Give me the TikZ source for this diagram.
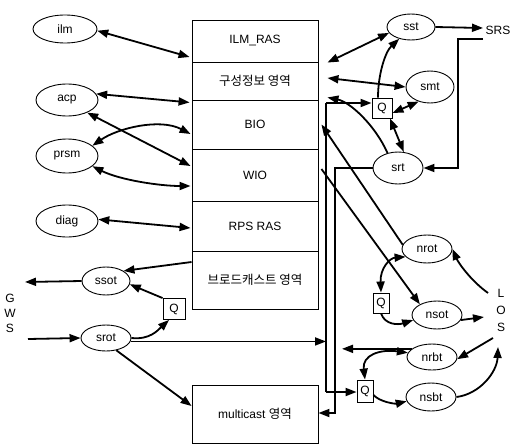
\documentclass[tikz,border=0pt]{standalone}
\usepackage{fontspec}
\setmainfont{Liberation Sans}
\newfontfamily\krfont{Noto Sans CJK KR}
\usetikzlibrary{arrows.meta,shapes.geometric}
\begin{document}
\begin{tikzpicture}[x=1pt,y=-1pt,
  every node/.style={font=\fontsize{12}{14}\selectfont},
  ell/.style={draw, ellipse, line width=0.9pt, inner sep=0pt},
  qbox/.style={draw, rectangle, line width=0.9pt, inner sep=0pt},
  rowbox/.style={draw, rectangle, line width=0.9pt, minimum width=126pt, inner sep=0pt},
  kr/.style={font=\krfont\fontsize{12.5}{14}\selectfont},
  conn/.style={line width=1.8pt, -{Triangle[length=11pt,width=8pt]}},
  dconn/.style={line width=1.8pt, {Triangle[length=11pt,width=8pt]}-{Triangle[length=11pt,width=8pt]}},
  bus/.style={line width=1.6pt},
  lbl/.style={inner sep=0pt}
]
\useasboundingbox (0,0) rectangle (513,444);

% main box
\node[rowbox, minimum height=42pt] (ilmras) at (255,41) {ILM\_RAS};
\node[rowbox, minimum height=38pt, kr] (cfg) at (255,81) {구성정보 영역};
\node[rowbox, minimum height=49pt] (bio) at (255,124.5) {BIO};
\node[rowbox, minimum height=52pt] (wio) at (255,175) {WIO};
\node[rowbox, minimum height=50pt] (rps) at (255,226) {RPS RAS};
\node[rowbox, minimum height=58pt, kr] (bcast) at (255,280) {브로드캐스트 영역};
\node[rowbox, minimum height=58pt] (mcast) at (255,414) {multicast {\krfont\fontsize{12.5}{14}\selectfont 영역}};

% left ellipses
\node[ell, minimum width=64pt, minimum height=28pt] (ilm) at (65,29) {ilm};
\node[ell, minimum width=62pt, minimum height=32pt] (acp) at (67,100) {acp};
\node[ell, minimum width=62pt, minimum height=34pt] (prsm) at (67,156) {prsm};
\node[ell, minimum width=62pt, minimum height=32pt] (diag) at (67,221) {diag};
\node[ell, minimum width=48pt, minimum height=28pt] (ssot) at (106,281) {ssot};
\node[ell, minimum width=50pt, minimum height=26pt] (srot) at (106,338) {srot};
\node[qbox, minimum width=22pt, minimum height=21pt] (Q0) at (174,309) {Q};

% right ellipses
\node[ell, minimum width=48pt, minimum height=26pt] (sst) at (411,27) {sst};
\node[ell, minimum width=48pt, minimum height=32pt] (smt) at (430,87) {smt};
\node[ell, minimum width=50pt, minimum height=32pt] (srt) at (398,168) {srt};
\node[ell, minimum width=50pt, minimum height=28pt] (nrot) at (427,249) {nrot};
\node[ell, minimum width=50pt, minimum height=28pt] (nsot) at (437,315) {nsot};
\node[ell, minimum width=50pt, minimum height=26pt] (nrbt) at (432,357) {nrbt};
\node[ell, minimum width=50pt, minimum height=28pt] (nsbt) at (431,397) {nsbt};
\node[qbox, minimum width=20pt, minimum height=20pt] (Q1) at (382,108) {Q};
\node[qbox, minimum width=16pt, minimum height=20pt] (Q2) at (381,303) {Q};
\node[qbox, minimum width=16pt, minimum height=22pt] (Q3) at (365,391) {Q};

% labels
\node[lbl] (g) at (10,298) {G};
\node[lbl] (w) at (10,313) {W};
\node[lbl] (s) at (10,328) {S};
\node[lbl] (l) at (501,293) {L};
\node[lbl] (o) at (501,310) {O};
\node[lbl] (s2) at (501,327) {S};
\node[lbl] (srs) at (498,30) {SRS};

% coordinates
\coordinate (busLtop) at (326,103);
\coordinate (busLbot) at (326,392);
\coordinate (busRbot) at (335,413);
\coordinate (gwsin) at (28,339);
\coordinate (gwsout) at (25,282);
\coordinate (srsout) at (483,28);
\coordinate (srsin) at (483,39);
\coordinate (srscorner) at (458,39);
\coordinate (losin) at (484,317);
\coordinate (losnrot) at (488,293);
\coordinate (losnrbt) at (493,338);
\coordinate (losnsbt) at (498,347);

% left connectors
\draw[dconn] (ilm.-3) -- ([xshift=-2pt,yshift=-16pt]ilmras.west);
\draw[dconn] (acp.12) -- ([xshift=-2pt,yshift=-2pt]cfg.south west);
\draw[dconn] (acp.-32) -- ([xshift=-1pt,yshift=9pt]wio.west);
\draw[dconn] (prsm.22) .. controls (118,128) and (160,118) .. ([xshift=-1pt,yshift=-9.5pt]bio.west);
\draw[dconn] (prsm.-22) .. controls (120,180) and (160,186) .. ([xshift=-1pt,yshift=-11pt]wio.west);
\draw[dconn] (diag.3) -- ([xshift=-1pt,yshift=-2pt]rps.west);
\draw[conn] ([yshift=18pt]bcast.west) -- (ssot.30);
\draw[conn] (ssot.west) -- (gwsout);
\draw[conn] (gwsin) -- (srot.west);
\draw[conn] (srot.east) .. controls (150,340) and (158,330) .. ([xshift=-5pt]Q0.south);
\draw[conn] (Q0.north west) -- (ssot.-8);
\draw[conn] (srot.-50) -- ([yshift=8pt]mcast.west);
\draw[conn] (srot.-8) -- (srot.-8 -| busLtop);

% buses
\draw[bus] (busLtop) -- (busLbot);
\draw[conn] (busLtop) -- (busLtop -| Q1.west);
\draw[conn] (busLbot) -- (busLbot -| Q3.west);
\draw[conn] (srt.west) -- (srt.west -| busRbot) -- (busRbot) -- (busRbot -| mcast.east);
\draw[conn, shorten >=7pt] (nrbt.158) -- (nrbt.158 -| busRbot);

% right connectors
\draw[dconn] ([xshift=9pt,yshift=-1pt]cfg.north east) -- (sst.195);
\draw[dconn] ([xshift=9pt,yshift=3pt]cfg.east) -- (smt.west);
\draw[conn] (srt.125) .. controls (375,125) and (350,102) .. ([xshift=9pt,yshift=3pt]cfg.south east);
\draw[conn] ([xshift=-4pt]Q1.north) .. controls (378,75) and (385,52) .. (sst.225);
\draw[dconn] ([yshift=-5pt]Q1.east) -- (smt.232);
\draw[dconn] ([xshift=8pt]Q1.south) -- (srt.70);
\draw[conn] (sst.east) -- (srsout);
\draw[conn] (srsin) -- (srscorner) |- (srt.east);
\draw[conn] (nrot.170) -- ([xshift=3pt]bio.east);
\draw[conn] ([xshift=3pt,yshift=6pt]wio.east) -- (nsot.148);
\draw[dconn] (nrot.200) .. controls (390,258) and (380,268) .. (Q2.north);
\draw[conn] (Q2.south) .. controls (385,325) and (398,325) .. (nsot.192);
\draw[conn] (nsot.-12) -- (losin);
\draw[conn] (losnrot) .. controls (470,280) and (458,262) .. (nrot.east);
\draw[conn] (losnrbt) -- (nrbt.-5);
\draw[conn] (nsbt.east) .. controls (480,394) and (497,372) .. (losnsbt);
\draw[conn] ([yshift=-4pt]Q3.east) .. controls (380,402) and (395,404) .. (nsbt.190);
\draw[dconn] (nrbt.170) .. controls (380,349) and (362,355) .. (Q3.north);
\end{tikzpicture}
\end{document}
